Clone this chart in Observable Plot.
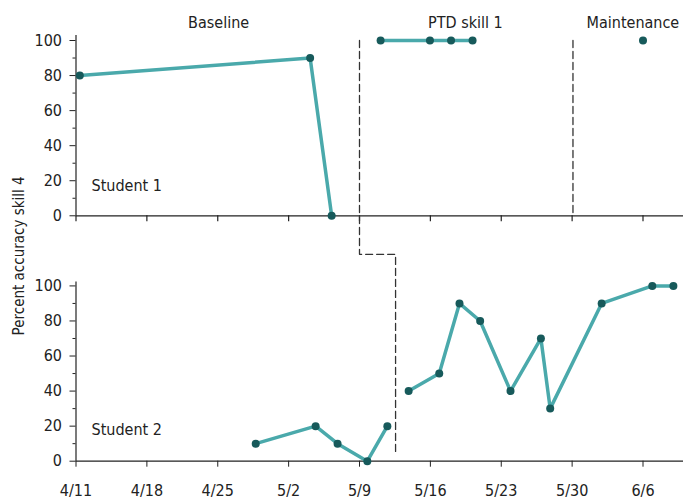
<!DOCTYPE html>
<html><head><meta charset="utf-8">
<script src="https://cdn.jsdelivr.net/npm/d3@7"></script>
<script src="https://cdn.jsdelivr.net/npm/@observablehq/plot@0.6"></script>
<style>
body{margin:0;background:#fff;}
</style></head><body><div id="chart"></div>
<script>
const FONT = '"Liberation Sans Narrow","DejaVu Sans Condensed","Roboto Condensed",sans-serif';

// Student 1
const s1Dates = ["2024-04-11T09:00Z","2024-05-04T03:00Z","2024-05-06T06:00Z",
  "2024-05-11T02:00Z","2024-05-15T23:00Z","2024-05-18T01:00Z","2024-05-20T04:00Z",
  "2024-06-06T00:00Z"];
const s1Values = [80, 90, 0, 100, 100, 100, 100, 100];
const s1Phases = ["Baseline","Baseline","Baseline","PTD","PTD","PTD","PTD","Maintenance"];

// Student 2
const s2Dates = ["2024-04-28T18:00Z","2024-05-04T16:00Z","2024-05-06T20:00Z","2024-05-09T18:30Z","2024-05-11T18:00Z",
  "2024-05-13T20:30Z","2024-05-16T21:00Z","2024-05-18T21:00Z","2024-05-20T22:00Z","2024-05-23T22:00Z",
  "2024-05-26T22:00Z","2024-05-27T20:00Z","2024-06-01T22:00Z","2024-06-06T22:00Z","2024-06-09T00:00Z"];
const s2Values = [10, 20, 10, 0, 20, 40, 50, 90, 80, 40, 70, 30, 90, 100, 100];
const s2Phases = ["Baseline","Baseline","Baseline","Baseline","Baseline",
  "PTD","PTD","PTD","PTD","PTD","PTD","PTD","PTD","PTD","PTD"];

const students = ["Student 1", "Student 2"];
const panelOffset = [140, 0];          // Student 1 panel stacked above Student 2
const studentLabelValue = [17, 18];

const yTicks = [0, 20, 40, 60, 80, 100];
const yMinorTicks = [10, 30, 50, 70, 90];
const xDomain = ["2024-04-11T00:00Z", "2024-06-10T00:00Z"];
const xTickDates = ["2024-04-11","2024-04-18","2024-04-25","2024-05-02","2024-05-09",
  "2024-05-16","2024-05-23","2024-05-30","2024-06-06"];
const xTickLabels = ["4/11","4/18","4/25","5/2","5/9","5/16","5/23","5/30","6/6"];

const phaseTitles = ["Baseline", "PTD skill 1", "Maintenance"];
const phaseTitleDates = ["2024-04-25T02:00Z", "2024-05-19T11:00Z", "2024-06-05T00:00Z"];

// Phase change lines (combined stacked scale: Student 1 = value + 140)
const phaseLine1Dates = ["2024-05-09T00:00Z","2024-05-09T00:00Z","2024-05-12T13:30Z","2024-05-12T13:30Z"];
const phaseLine1Values = [240, 118, 118, 4];
const phaseLine2Dates = ["2024-05-30T02:00Z","2024-05-30T02:00Z"];
const phaseLine2Values = [240, 140];

const yLabel = "Percent accuracy skill 4";

// build tables
const pts = [];
s1Dates.forEach((d, i) => pts.push({date: new Date(d), y: s1Values[i] + panelOffset[0], series: "s1-" + s1Phases[i]}));
s2Dates.forEach((d, i) => pts.push({date: new Date(d), y: s2Values[i] + panelOffset[1], series: "s2-" + s2Phases[i]}));
const pl1 = phaseLine1Dates.map((d, i) => ({date: new Date(d), y: phaseLine1Values[i]}));
const pl2 = phaseLine2Dates.map((d, i) => ({date: new Date(d), y: phaseLine2Values[i]}));
const x0 = new Date(xDomain[0]), x1 = new Date(xDomain[1]);
const tickDates = xTickDates.map(d => new Date(d + "T00:00Z"));
const labelOf = new Map(tickDates.map((d, i) => [+d, xTickLabels[i]]));
const yMajor = [...yTicks.map(v => v + panelOffset[1]), ...yTicks.map(v => v + panelOffset[0])];
const yMinor = [...yMinorTicks.map(v => v + panelOffset[1]), ...yMinorTicks.map(v => v + panelOffset[0])];
const titles = phaseTitles.map((t, i) => ({t, date: new Date(phaseTitleDates[i])}));
const studLabels = students.map((s, i) => ({s, y: studentLabelValue[i] + panelOffset[i]}));

const ink = "#222";
const chart = Plot.plot({
  width: 683, height: 499,
  marginLeft: 75.5, marginRight: 0, marginTop: 40, marginBottom: 38.3,
  style: {fontFamily: FONT, fontSize: "16px", color: ink, background: "#fff", overflow: "visible"},
  x: {type: "utc", domain: [x0, x1], axis: null},
  y: {domain: [0, 240], axis: null},
  marks: [
    // x axis lines
    Plot.ruleY(panelOffset, {x1: x0, x2: x1, stroke: ink, strokeWidth: 1.2}),
    // y axis lines
    Plot.ruleX([x0], {y1: 240, y2: 140, insetTop: -5, stroke: ink, strokeWidth: 1.2}),
    Plot.ruleX([x0], {y1: 100, y2: 0, insetTop: -4, stroke: ink, strokeWidth: 1.2}),
    // bottom x axis
    Plot.axisX(tickDates, {tickFormat: d => labelOf.get(+d), tickSize: 6, tickPadding: 17, fontSize: 16, stroke: ink, fill: ink, label: null}),
    // top panel x ticks
    Plot.ruleX(tickDates, {y1: panelOffset[0], y2: panelOffset[0], insetBottom: -6, stroke: ink, strokeWidth: 1.2}),
    // y axes
    Plot.axisY(yMajor, {tickFormat: d => d >= panelOffset[0] ? d - panelOffset[0] : d, tickSize: 6, tickPadding: 8, fontSize: 16, stroke: ink, fill: ink, label: null}),
    Plot.axisY(yMinor, {tickFormat: () => "", tickSize: 3, stroke: ink, label: null}),
    // phase change lines
    Plot.line(pl1, {x: "date", y: "y", stroke: "#333", strokeWidth: 1.3, strokeDasharray: "7,4"}),
    Plot.line(pl2, {x: "date", y: "y", stroke: "#333", strokeWidth: 1.3, strokeDasharray: "7,4"}),
    // data
    Plot.line(pts, {x: "date", y: "y", z: "series", stroke: "#4aa9ab", strokeWidth: 3.5}),
    Plot.dot(pts, {x: "date", y: "y", r: 4, fill: "#175a5b", stroke: null}),
    // phase titles
    Plot.text(titles, {x: "date", y: 240, text: "t", dy: -18, fontSize: 16, fill: ink}),
    // student labels
    Plot.text(studLabels, {x: x0, y: "y", text: "s", dx: 15.5, textAnchor: "start", fontSize: 16, fill: ink}),
    // y label
    Plot.text([yLabel], {frameAnchor: "left", textAnchor: "middle", rotate: -90, dx: -57, dy: 5, fontSize: 15, fill: ink})
  ]
});
document.getElementById("chart").append(chart);
</script>
</body></html>
